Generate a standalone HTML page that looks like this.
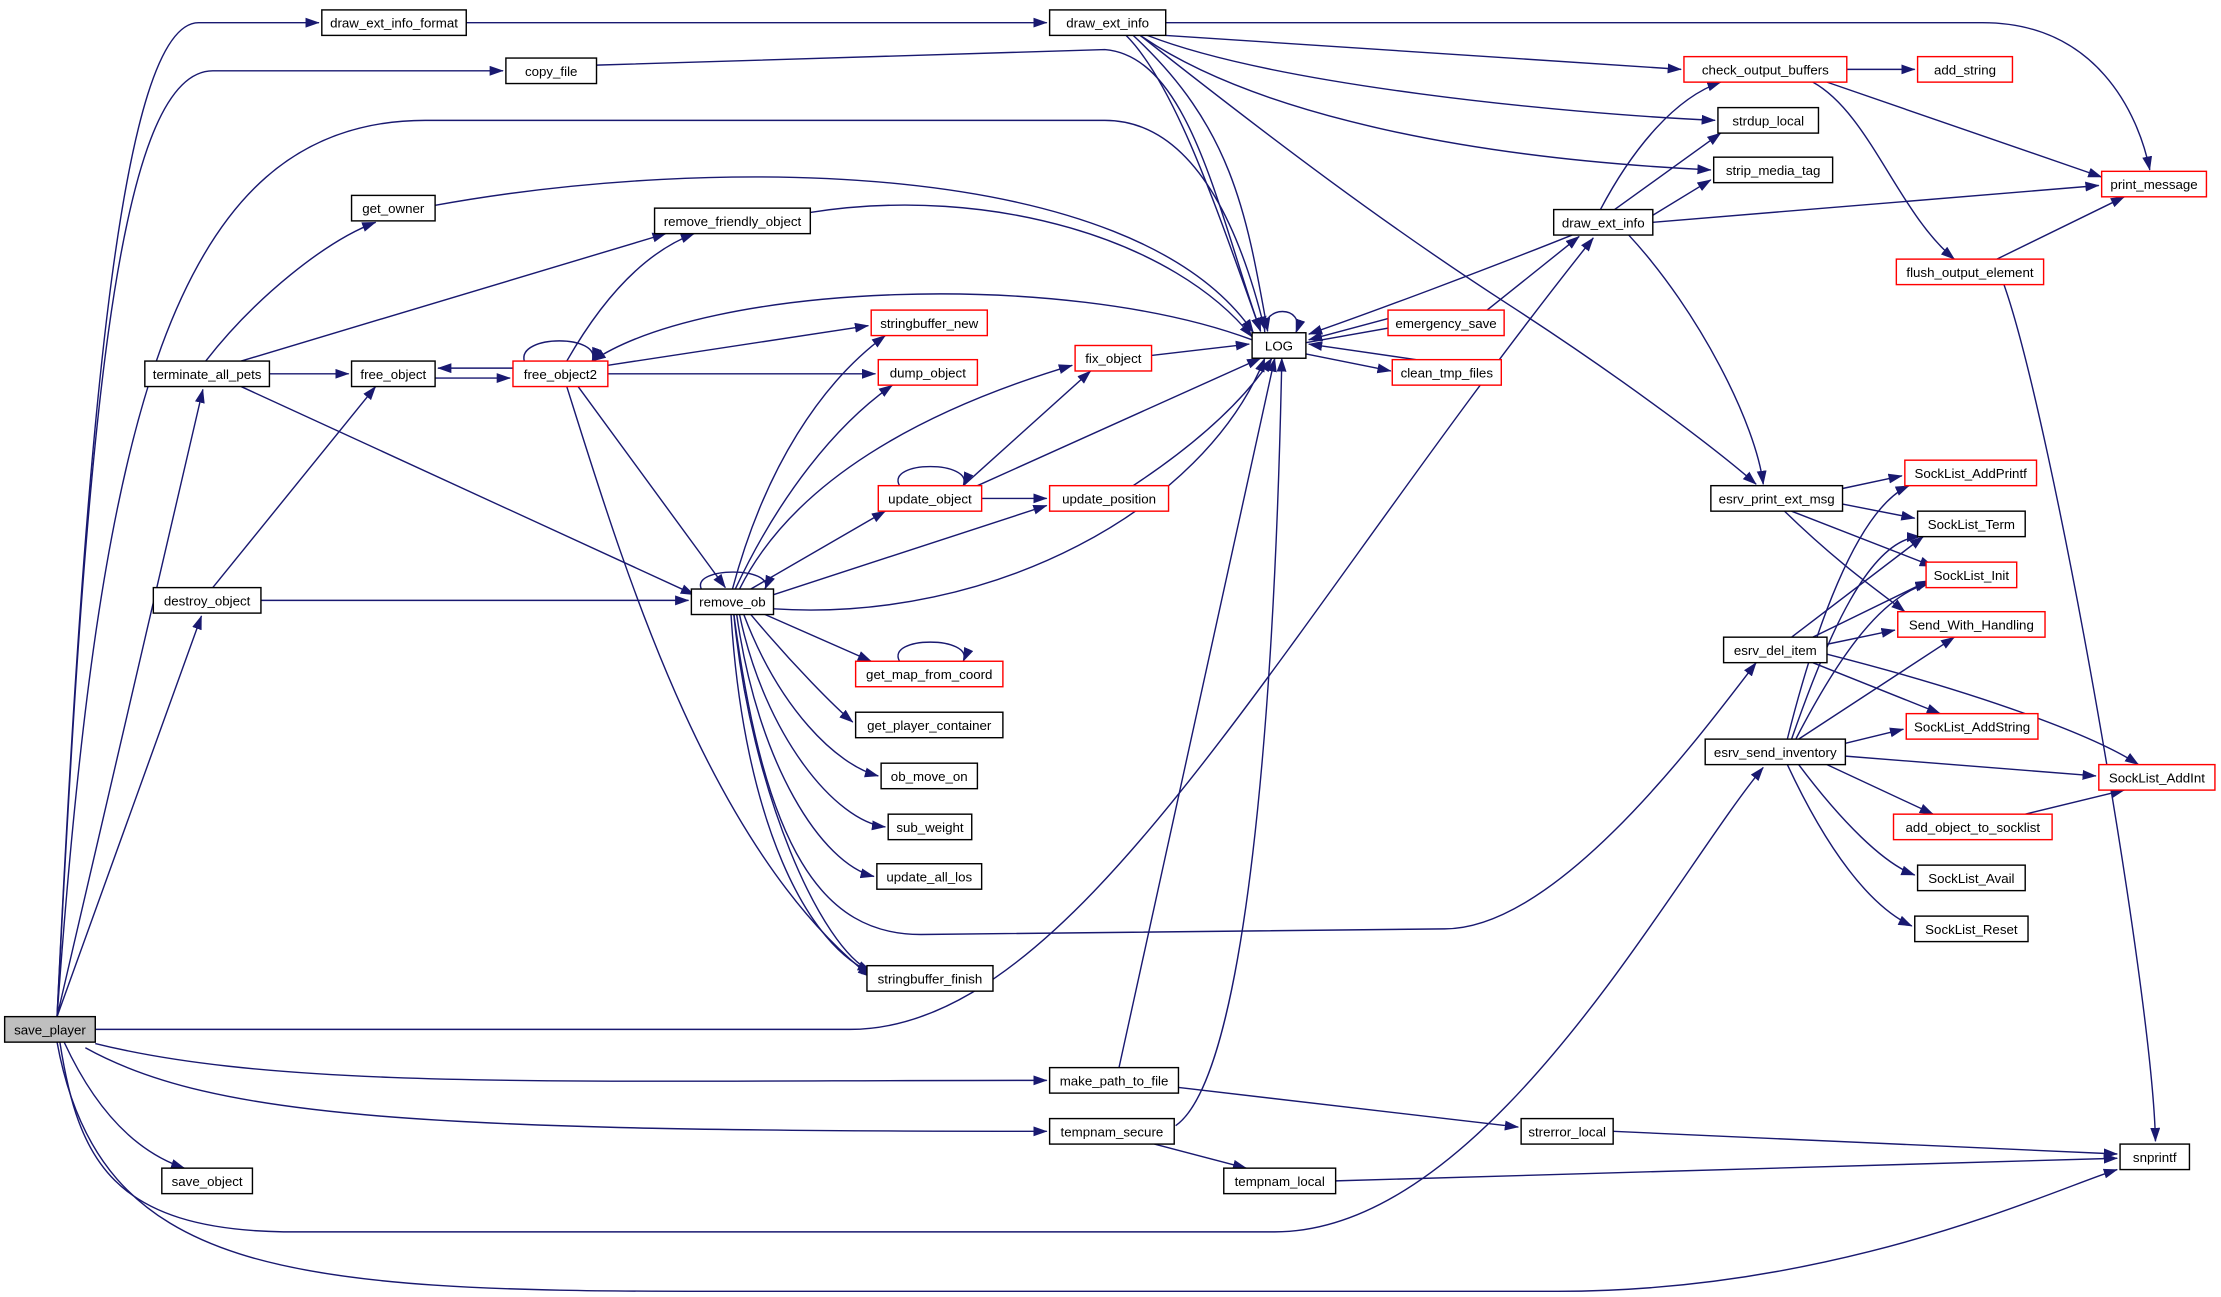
<!DOCTYPE html>
<html><head><meta charset="utf-8"><style>
html,body{margin:0;padding:0;background:#fff;}
svg{display:block;}
text{font-family:"Liberation Sans",Arial,sans-serif;font-size:9.4px;fill:#000;}
</style></head><body>
<svg width="2221" height="1297" viewBox="0 0 1568 916" xmlns="http://www.w3.org/2000/svg">
<defs>
<marker id="a" markerUnits="userSpaceOnUse" markerWidth="10" markerHeight="8" refX="9.5" refY="3.5" orient="auto">
<path d="M0,0 L10,3.5 L0,7 Z" fill="#191970"/>
</marker>
</defs>
<g fill="none" stroke="#191970" stroke-width="1" marker-end="url(#a)">
<path d="M40,718 C60,300 85,16 140,16 L225,16"/>
<path d="M40,718 C60,320 80,50 150,50 L355,50"/>
<path d="M40,718 C70,300 120,85 300,85 L780,85 C850,85 880,180 893,233"/>
<path d="M40,718 L143,275"/>
<path d="M40,718 L142,435"/>
<path d="M67,727 L600,727 C760,727 900,450 1125,168"/>
<path d="M67,737 C200,770 400,763 739,763"/>
<path d="M60,740 C150,790 300,799 739,799"/>
<path d="M45,736 C70,790 100,815 130,825"/>
<path d="M42,736 C55,820 80,868 200,870 L900,870 C1050,870 1180,620 1245,542"/>
<path d="M40,736 C70,900 200,912 500,912 L1100,912 C1300,912 1450,840 1495,826"/>
<path d="M145,255 C180,210 230,170 265,157"/>
<path d="M170,255 L470,165"/>
<path d="M190,264 L246,264"/>
<path d="M170,273 L490,420"/>
<path d="M150,415 L265,273"/>
<path d="M184,424 L486,424"/>
<path d="M307,145 C500,110 800,110 885,235"/>
<path d="M421,46 L780,35 C840,40 860,150 890,234"/>
<path d="M329,16 L739,16"/>
<path d="M572,150 C700,130 830,170 884,238"/>
<path d="M307,267 L360,267"/>
<path d="M362,260 L309,260"/>
<path d="M370,255 C365,236 425,236 418,255"/>
<path d="M400,255 C420,220 450,180 490,165"/>
<path d="M884,240 C750,190 500,200 418,255"/>
<path d="M429,258 L613,230"/>
<path d="M429,264 L618,264"/>
<path d="M408,273 L512,415"/>
<path d="M400,273 C440,400 500,600 615,690"/>
<path d="M495,416 C488,400 547,400 540,416"/>
<path d="M517,416 C540,330 580,270 625,237"/>
<path d="M519,416 C550,350 590,300 630,272"/>
<path d="M522,416 C560,340 650,290 757,258"/>
<path d="M530,416 L625,361"/>
<path d="M546,420 L739,357"/>
<path d="M546,430 C700,440 850,360 893,253"/>
<path d="M540,434 L615,467"/>
<path d="M530,434 C560,470 590,500 602,510"/>
<path d="M525,434 C550,500 590,540 620,548"/>
<path d="M522,434 C540,520 590,580 625,584"/>
<path d="M520,434 C535,540 580,610 617,619"/>
<path d="M518,434 C530,560 580,670 615,686"/>
<path d="M516,434 C525,580 570,670 618,688"/>
<path d="M518,434 C540,600 580,660 650,660 L1020,656 C1100,656 1200,520 1240,468"/>
<path d="M635,467 C625,449 688,449 680,467"/>
<path d="M635,343 C625,325 688,325 680,343"/>
<path d="M693,352 L739,352"/>
<path d="M680,343 L770,262"/>
<path d="M690,343 L890,253"/>
<path d="M800,343 C850,310 880,280 898,253"/>
<path d="M813,251 L882,243"/>
<path d="M893,235 C890,215 922,215 915,235"/>
<path d="M922,242 L990,230"/>
<path d="M980,225 L924,240"/>
<path d="M922,250 L982,262"/>
<path d="M1000,254 L924,243"/>
<path d="M1110,166 C1050,190 970,220 924,236"/>
<path d="M1050,219 L1115,167"/>
<path d="M790,754 L900,253"/>
<path d="M830,795 C880,760 900,500 905,253"/>
<path d="M832,768 L1072,796"/>
<path d="M815,808 L880,825"/>
<path d="M943,834 L1495,818"/>
<path d="M1139,799 L1495,815"/>
<path d="M795,25 C830,60 860,150 890,234"/>
<path d="M800,25 C870,90 880,150 895,234"/>
<path d="M823,16 L1400,16 C1480,16 1510,80 1518,120"/>
<path d="M823,25 L1187,49"/>
<path d="M810,25 C900,60 1100,80 1211,85"/>
<path d="M805,25 C870,70 1000,110 1208,120"/>
<path d="M805,25 C900,100 980,160 1065,215 C1150,270 1215,320 1240,342"/>
<path d="M1130,148 C1150,110 1180,70 1215,58"/>
<path d="M1140,148 L1215,94"/>
<path d="M1167,152 L1208,127"/>
<path d="M1167,157 L1482,131"/>
<path d="M1150,166 C1200,220 1240,300 1245,342"/>
<path d="M1304,49 L1352,49"/>
<path d="M1290,58 L1484,125"/>
<path d="M1280,58 C1320,80 1340,150 1380,183"/>
<path d="M1410,183 L1500,139"/>
<path d="M1415,201 C1450,300 1520,700 1522,806"/>
<path d="M1301,345 L1343,336"/>
<path d="M1301,356 L1352,366"/>
<path d="M1265,361 L1365,400"/>
<path d="M1260,361 C1300,400 1330,420 1345,432"/>
<path d="M1265,450 L1358,379"/>
<path d="M1280,450 L1362,410"/>
<path d="M1290,455 L1338,445"/>
<path d="M1280,468 L1370,504"/>
<path d="M1290,462 C1400,490 1480,520 1510,540"/>
<path d="M1262,522 C1280,450 1310,360 1348,343"/>
<path d="M1265,522 C1290,450 1320,380 1356,379"/>
<path d="M1268,522 C1300,460 1330,420 1362,412"/>
<path d="M1270,522 L1380,450"/>
<path d="M1303,525 L1344,515"/>
<path d="M1303,534 L1480,548"/>
<path d="M1290,540 L1365,575"/>
<path d="M1270,540 C1300,580 1330,610 1352,618"/>
<path d="M1262,540 C1290,600 1320,640 1350,654"/>
<path d="M1430,575 L1500,558"/>
</g>
<g stroke-width="1" text-anchor="middle">
<rect x="3" y="718" width="64" height="18" fill="#bfbfbf" stroke="#000"/><text x="35" y="730.5">save_player</text>
<g fill="#fff" stroke="#000">
<rect x="227" y="7" width="102" height="18"/>
<rect x="357" y="41" width="64" height="18"/>
<rect x="248" y="138" width="59" height="18"/>
<rect x="462" y="147" width="110" height="18"/>
<rect x="102" y="255" width="88" height="18"/>
<rect x="248" y="255" width="59" height="18"/>
<rect x="108" y="415" width="76" height="18"/>
<rect x="488" y="416" width="58" height="18"/>
<rect x="114" y="825" width="64" height="18"/>
<rect x="741" y="7" width="82" height="18"/>
<rect x="884" y="235" width="38" height="18"/>
<rect x="604" y="503" width="104" height="18"/>
<rect x="622" y="539" width="68" height="18"/>
<rect x="627" y="575" width="59" height="18"/>
<rect x="619" y="610" width="74" height="18"/>
<rect x="612" y="682" width="89" height="18"/>
<rect x="741" y="754" width="91" height="18"/>
<rect x="741" y="790" width="88" height="18"/>
<rect x="864" y="825" width="79" height="18"/>
<rect x="1074" y="790" width="65" height="18"/>
<rect x="1497" y="808" width="49" height="18"/>
<rect x="1097" y="148" width="70" height="18"/>
<rect x="1213" y="76" width="71" height="18"/>
<rect x="1210" y="111" width="84" height="18"/>
<rect x="1208" y="343" width="93" height="18"/>
<rect x="1354" y="361" width="76" height="18"/>
<rect x="1217" y="450" width="73" height="18"/>
<rect x="1204" y="522" width="99" height="18"/>
<rect x="1354" y="611" width="76" height="18"/>
<rect x="1352" y="647" width="80" height="18"/>
</g>
<g fill="#fff" stroke="#ff0000">
<rect x="362" y="255" width="67" height="18"/>
<rect x="980" y="219" width="82" height="18"/>
<rect x="983" y="254" width="77" height="18"/>
<rect x="615" y="219" width="82" height="18"/>
<rect x="620" y="254" width="70" height="18"/>
<rect x="759" y="244" width="54" height="18"/>
<rect x="620" y="343" width="73" height="18"/>
<rect x="741" y="343" width="84" height="18"/>
<rect x="604" y="467" width="104" height="18"/>
<rect x="1189" y="40" width="115" height="18"/>
<rect x="1354" y="40" width="67" height="18"/>
<rect x="1484" y="121" width="74" height="18"/>
<rect x="1339" y="183" width="104" height="18"/>
<rect x="1345" y="325" width="93" height="18"/>
<rect x="1360" y="397" width="64" height="18"/>
<rect x="1340" y="432" width="104" height="18"/>
<rect x="1346" y="504" width="93" height="18"/>
<rect x="1482" y="540" width="82" height="18"/>
<rect x="1337" y="575" width="112" height="18"/>
</g>
<text x="278" y="19.5">draw_ext_info_format</text>
<text x="389" y="53.5">copy_file</text>
<text x="277.5" y="150.5">get_owner</text>
<text x="517" y="159.5">remove_friendly_object</text>
<text x="146" y="267.5">terminate_all_pets</text>
<text x="277.5" y="267.5">free_object</text>
<text x="146" y="427.5">destroy_object</text>
<text x="517" y="428.5">remove_ob</text>
<text x="146" y="837.5">save_object</text>
<text x="782" y="19.5">draw_ext_info</text>
<text x="903" y="247.5">LOG</text>
<text x="656" y="515.5">get_player_container</text>
<text x="656" y="551.5">ob_move_on</text>
<text x="656.5" y="587.5">sub_weight</text>
<text x="656" y="622.5">update_all_los</text>
<text x="656.5" y="694.5">stringbuffer_finish</text>
<text x="786.5" y="766.5">make_path_to_file</text>
<text x="785" y="802.5">tempnam_secure</text>
<text x="903.5" y="837.5">tempnam_local</text>
<text x="1106.5" y="802.5">strerror_local</text>
<text x="1521.5" y="820.5">snprintf</text>
<text x="1132" y="160.5">draw_ext_info</text>
<text x="1248.5" y="88.5">strdup_local</text>
<text x="1252" y="123.5">strip_media_tag</text>
<text x="1254.5" y="355.5">esrv_print_ext_msg</text>
<text x="1392" y="373.5">SockList_Term</text>
<text x="1253.5" y="462.5">esrv_del_item</text>
<text x="1253.5" y="534.5">esrv_send_inventory</text>
<text x="1392" y="623.5">SockList_Avail</text>
<text x="1392" y="659.5">SockList_Reset</text>
<text x="395.5" y="267.5">free_object2</text>
<text x="1021" y="231.5">emergency_save</text>
<text x="1021.5" y="266.5">clean_tmp_files</text>
<text x="656" y="231.5">stringbuffer_new</text>
<text x="655" y="266.5">dump_object</text>
<text x="786" y="256.5">fix_object</text>
<text x="656.5" y="355.5">update_object</text>
<text x="783" y="355.5">update_position</text>
<text x="656" y="479.5">get_map_from_coord</text>
<text x="1246.5" y="52.5">check_output_buffers</text>
<text x="1387.5" y="52.5">add_string</text>
<text x="1521" y="133.5">print_message</text>
<text x="1391" y="195.5">flush_output_element</text>
<text x="1391.5" y="337.5">SockList_AddPrintf</text>
<text x="1392" y="409.5">SockList_Init</text>
<text x="1392" y="444.5">Send_With_Handling</text>
<text x="1392.5" y="516.5">SockList_AddString</text>
<text x="1523" y="552.5">SockList_AddInt</text>
<text x="1393" y="587.5">add_object_to_socklist</text>
</g>
</svg>
</body></html>
